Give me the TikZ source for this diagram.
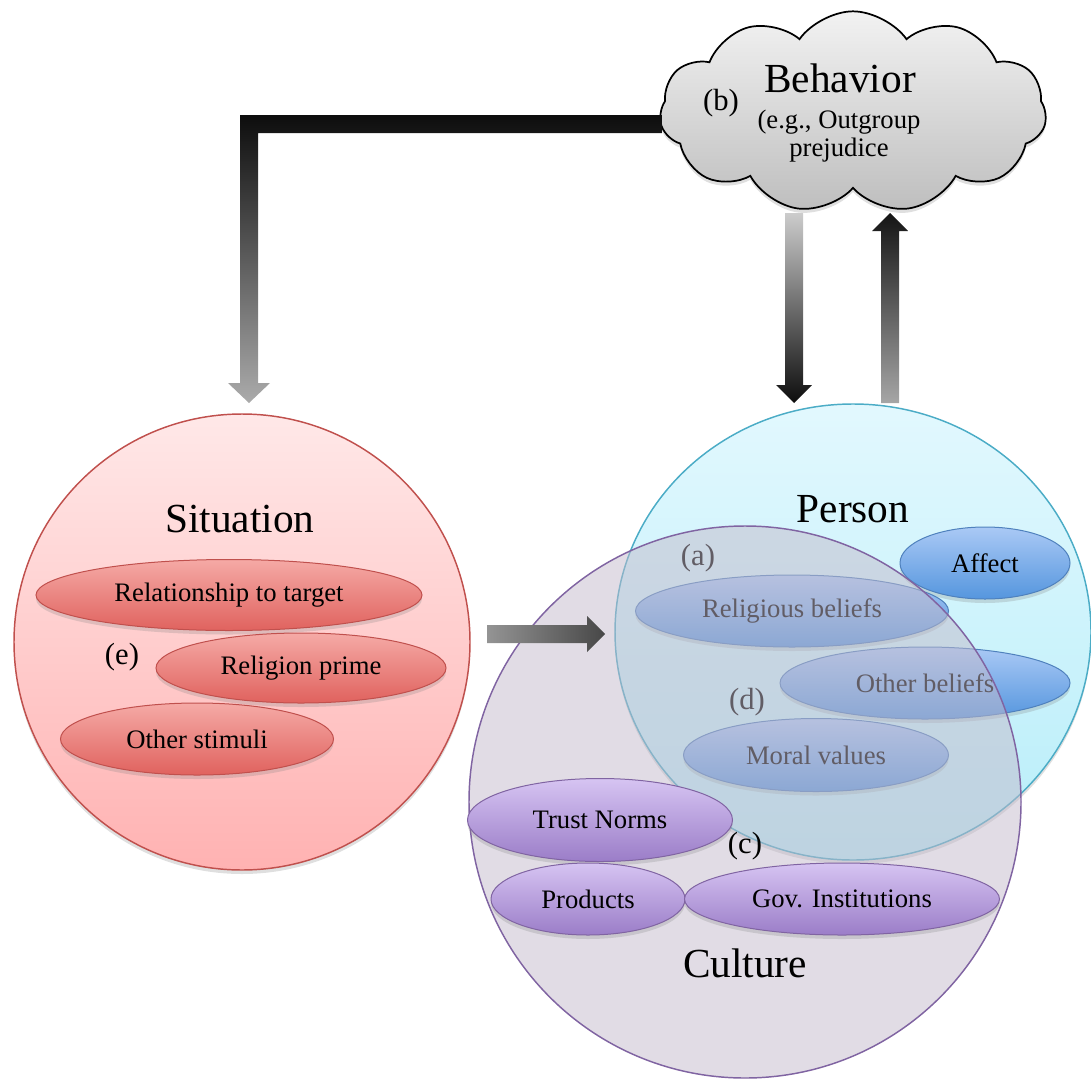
\documentclass[tikz,border=0pt]{standalone}
\usepackage{fontspec}
\setmainfont{Liberation Serif}
\usetikzlibrary{shapes.geometric,shapes.symbols,shadows,calc}

\definecolor{sitline}{RGB}{192,80,77}
\definecolor{sittop}{RGB}{255,232,232}
\definecolor{sitbot}{RGB}{255,178,178}
\definecolor{redtop}{RGB}{245,170,166}
\definecolor{redbot}{RGB}{224,98,94}
\definecolor{perline}{RGB}{75,172,198}
\definecolor{pertop}{RGB}{226,248,254}
\definecolor{perbot}{RGB}{184,238,249}
\definecolor{blueline}{RGB}{79,129,189}
\definecolor{bluetop}{RGB}{170,201,245}
\definecolor{bluebot}{RGB}{85,150,222}
\definecolor{culline}{RGB}{128,100,162}
\definecolor{culfill}{RGB}{195,186,203}
\definecolor{purtop}{RGB}{214,196,242}
\definecolor{purbot}{RGB}{155,125,200}
\definecolor{cloudtop}{RGB}{242,242,242}
\definecolor{cloudbot}{RGB}{190,190,190}

\tikzset{every picture/.style={line width=0.75pt}}
\tikzset{
  softshadow/.style={drop shadow={opacity=0.25,shadow xshift=0pt,shadow yshift=-3pt}},
  ovaltext/.style={font=\fontsize{20}{24}\selectfont},
  titletext/.style={font=\fontsize{31}{36}\selectfont},
  labeltext/.style={font=\fontsize{23}{27}\selectfont},
  bigcircle/.style={line width=1.1pt, softshadow},
  redoval/.style={ellipse, draw=sitline, top color=redtop, bottom color=redbot, inner sep=0pt, ovaltext, softshadow},
  blueoval/.style={ellipse, draw=blueline, top color=bluetop, bottom color=bluebot, inner sep=0pt, ovaltext, softshadow},
  purpleoval/.style={ellipse, draw=culline, top color=purtop, bottom color=purbot, inner sep=0pt, ovaltext, softshadow},
}

\begin{document}
\begin{tikzpicture}[x=0.75pt,y=0.75pt,yscale=-1,xscale=1]
\path[use as bounding box] (0,0) rectangle (1091,1081);

%Situation
\node (sit) [circle, draw=sitline, top color=sittop, bottom color=sitbot, minimum size=342pt, bigcircle] at (242,642) {};
\node (rel) [redoval, minimum width=289.5pt, minimum height=53.25pt] at (229,595) {Relationship to target};
\node (rprime) [redoval, minimum width=217.5pt, minimum height=52.5pt] at (301,668) {Religion prime};
\node (stim) [redoval, minimum width=204.75pt, minimum height=54pt] at (197,739) {Other stimuli};
% Text Node
\node (sittitle) [anchor=base, titletext] at (240,532) {Situation};
% Text Node
\node (elab) [labeltext] at (122,657) {(e)};

%Person
\node (per) [ellipse, draw=perline, top color=pertop, bottom color=perbot, minimum width=357pt, minimum height=342pt, bigcircle] at (853,632) {};
\node (affect) [blueoval, minimum width=127.5pt, minimum height=54pt] at (985,563) {Affect};
\node (relbel) [blueoval, minimum width=234.75pt, minimum height=54pt] at (792,611) {Religious beliefs};
\node (othbel) [blueoval, minimum width=217.5pt, minimum height=54pt] at (925,683) {Other beliefs};
\node (moral) [blueoval, minimum width=198.75pt, minimum height=54.75pt] at (816,755) {Moral values};
% Text Node
\node (alab) [labeltext] at (698,558) {(a)};
% Text Node
\node (dlab) [labeltext] at (747,702) {(d)};

%Culture
\node (cul) [circle, draw=culline, fill=culfill, fill opacity=0.5, line width=1.1pt, minimum size=414pt] at (745,802) {};
\node (trust) [purpleoval, minimum width=198.75pt, minimum height=62.25pt] at (600,820) {Trust Norms};
\node (prod) [purpleoval, minimum width=145.5pt, minimum height=54pt] at (588,899) {Products};
\node (gov) [purpleoval, minimum width=236.25pt, minimum height=54pt] at (842,899) {Gov. Institutions};
% Text Node
\node (clab) [labeltext] at (745,846) {(c)};
% Text Node
\node (pertitle) [anchor=base, titletext] at (853,522) {Person};
% Text Node
\node (cultitle) [anchor=base, titletext] at (745,977) {Culture};

%Behavior
\node (bhv) [cloud, cloud puffs=11, cloud puff arc=110, aspect=1.9, draw, line width=1.3pt, top color=cloudtop, bottom color=cloudbot, minimum width=290pt, minimum height=151pt, softshadow] at (853,112) {};
% Text Node
\node (bhvtitle) [anchor=base, titletext] at (840,92) {Behavior};
% Text Node
\node (blab) [anchor=base, labeltext] at (721,110) {(b)};
% Text Node
\node (bhvsub1) [anchor=base, ovaltext] at (839,128) {(e.g., Outgroup};
% Text Node
\node (bhvsub2) [anchor=base, ovaltext] at (839,156) {prejudice};

%Arrow ends
\coordinate (bhv-l) at (662,124);
\coordinate (sit-t) at (249,403);
\coordinate (bhv-b) at (794,213);
\coordinate (per-t) at (794,403);
\coordinate (per-u) at (890,403);
\coordinate (bhv-u) at (890,213);
\coordinate (sit-r) at (487,634);
\coordinate (cul-l) at (605,634);

%Block Arrows
% behavior -> situation
\shade [top color=black!95, bottom color=black!33] ($(bhv-l)+(0,-9)$) -- ($(bhv-l)+(0,9)$) -| ($(sit-t)+(9,-20)$) -- ($(sit-t)+(21,-20)$) -- (sit-t) -- ($(sit-t)+(-21,-20)$) -- ($(sit-t)+(-9,-20)$) |- cycle;
% behavior -> person
\shade [top color=black!20, bottom color=black!95] ($(bhv-b)+(-9,0)$) -- ($(bhv-b)+(9,0)$) -- ($(per-t)+(9,-18)$) -- ($(per-t)+(18,-18)$) -- (per-t) -- ($(per-t)+(-18,-18)$) -- ($(per-t)+(-9,-18)$) -- cycle;
% person -> behavior
\shade [top color=black!92, bottom color=black!35] ($(per-u)+(-9,0)$) -- ($(per-u)+(9,0)$) -- ($(bhv-u)+(9,18)$) -- ($(bhv-u)+(18,18)$) -- (bhv-u) -- ($(bhv-u)+(-18,18)$) -- ($(bhv-u)+(-9,18)$) -- cycle;
% situation -> culture
\shade [left color=black!42, right color=black!72] ($(sit-r)+(0,-9)$) -- ($(cul-l)+(-18,-9)$) -- ($(cul-l)+(-18,-18)$) -- (cul-l) -- ($(cul-l)+(-18,18)$) -- ($(cul-l)+(-18,9)$) -- ($(sit-r)+(0,9)$) -- cycle;

\end{tikzpicture}
\end{document}
